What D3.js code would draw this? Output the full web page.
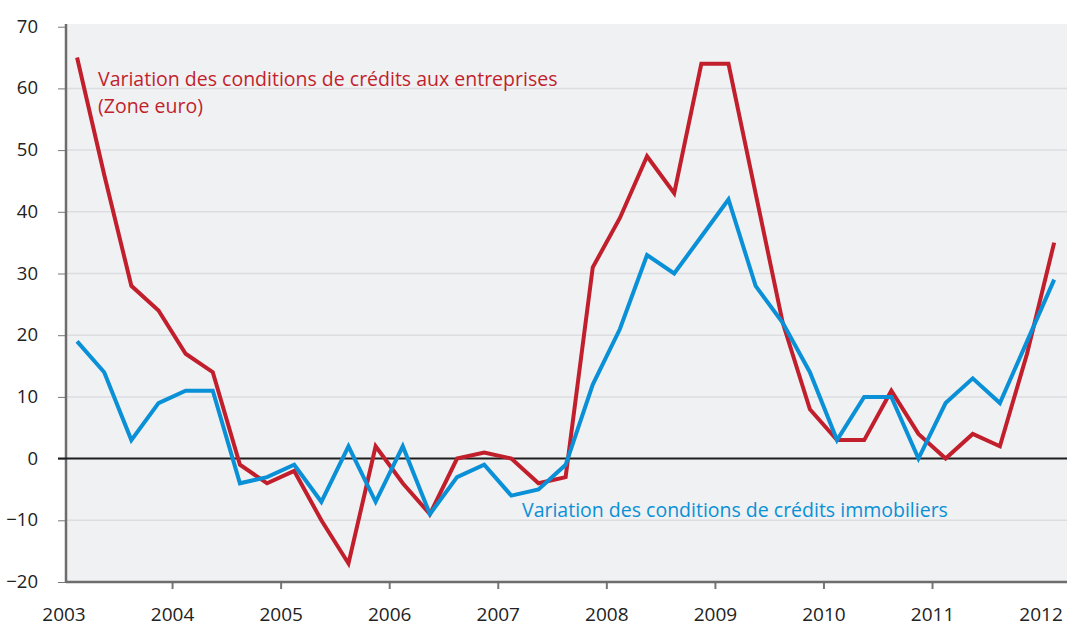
<!DOCTYPE html>
<html><head><meta charset="utf-8">
<script src="https://cdn.jsdelivr.net/npm/d3@7"></script>
<style>body{margin:0;background:#fff}svg{display:block}text{font-family:"Open Sans",sans-serif}</style>
</head><body><svg id="c" width="1067" height="627"></svg>
<script>
const years = [2003,2004,2005,2006,2007,2008,2009,2010,2011,2012];
const yTicks = [-20,-10,0,10,20,30,40,50,60,70];
const entreprises = [65,46,28,24,17,14,-1,-4,-2,-10,-17,2,-4,-9,0,1,0,-4,-3,31,39,49,43,64,64,43,22,8,3,3,11,4,0,4,2,17,35];
const immobiliers = [19,14,3,9,11,11,-4,-3,-1,-7,2,-7,2,-9,-3,-1,-6,-5,-1,12,21,33,30,36,42,28,22,14,3,10,10,0,9,13,9,19,29];
const quarters = entreprises.map((d,i)=>2003.125+0.25*i);
const labelEntreprises = ["Variation des conditions de crédits aux entreprises","(Zone euro)"];
const labelImmobiliers = "Variation des conditions de crédits immobiliers";

const svg = d3.select("#c");
const x = d3.scaleLinear().domain([2003,2012]).range([63.5,1040.6]);
const y = d3.scaleLinear().domain([-20,70]).range([582,26.7]);
const pLeft = 66, pRight = 1067, pTop = 24, pBottom = 582;

svg.append("rect").attr("x",pLeft).attr("y",pTop).attr("width",pRight-pLeft).attr("height",pBottom-pTop).attr("fill","#f0f1f3");

// grid
svg.append("g").selectAll("line").data(yTicks.filter(v=>v!==0&&v!==-20&&v!==70)).join("line")
  .attr("x1",pLeft).attr("x2",pRight).attr("y1",d=>y(d)).attr("y2",d=>y(d))
  .attr("stroke","#dcdde0").attr("stroke-width",1.5);

// y axis
const yAxis = svg.append("g").attr("transform",`translate(${pLeft},0)`)
  .call(d3.axisLeft(y).tickValues(yTicks).tickSize(8).tickPadding(20));
yAxis.select(".domain").remove();
yAxis.selectAll(".tick line").attr("stroke","#777").attr("stroke-width",1);
yAxis.selectAll(".tick text").attr("font-size",18.5).attr("fill","#222").attr("dy","0.3em");

// x axis
const xAxis = svg.append("g").attr("transform",`translate(0,${pBottom})`)
  .call(d3.axisBottom(x).tickValues(years).tickFormat(d3.format("d")).tickSize(7).tickPadding(19));
xAxis.select(".domain").remove();
xAxis.selectAll(".tick line").attr("stroke","#777").attr("stroke-width",2);
xAxis.selectAll(".tick").filter(d=>d===2003||d===2012).select("line").remove();
xAxis.selectAll(".tick text").attr("font-size",19).attr("fill","#222");

// axis lines
svg.append("line").attr("x1",pLeft).attr("x2",pLeft).attr("y1",pTop).attr("y2",pBottom+1).attr("stroke","#6d6d6d").attr("stroke-width",2.5);
svg.append("line").attr("x1",pLeft).attr("x2",pRight).attr("y1",pBottom).attr("y2",pBottom).attr("stroke","#6d6d6d").attr("stroke-width",2.5);
// zero line
svg.append("line").attr("x1",58).attr("x2",pRight).attr("y1",y(0)).attr("y2",y(0)).attr("stroke","#1e1e1e").attr("stroke-width",2);

const line = d3.line().x((d,i)=>x(quarters[i])).y(d=>y(d));
svg.append("path").datum(entreprises).attr("d",line).attr("fill","none").attr("stroke","#c21f2d").attr("stroke-width",4).attr("stroke-linejoin","miter");
svg.append("path").datum(immobiliers).attr("d",line).attr("fill","none").attr("stroke","#0a90d6").attr("stroke-width",4).attr("stroke-linejoin","miter");

const lab = svg.append("text").attr("x",98).attr("y",86).attr("font-size",19.5).attr("fill","#c21f2d");
lab.selectAll("tspan").data(labelEntreprises).join("tspan").attr("x",98).attr("dy",(d,i)=>i?27:0).text(d=>d);
svg.append("text").attr("x",522).attr("y",517).attr("font-size",19.5).attr("fill","#0a90d6").text(labelImmobiliers);
</script></body></html>
